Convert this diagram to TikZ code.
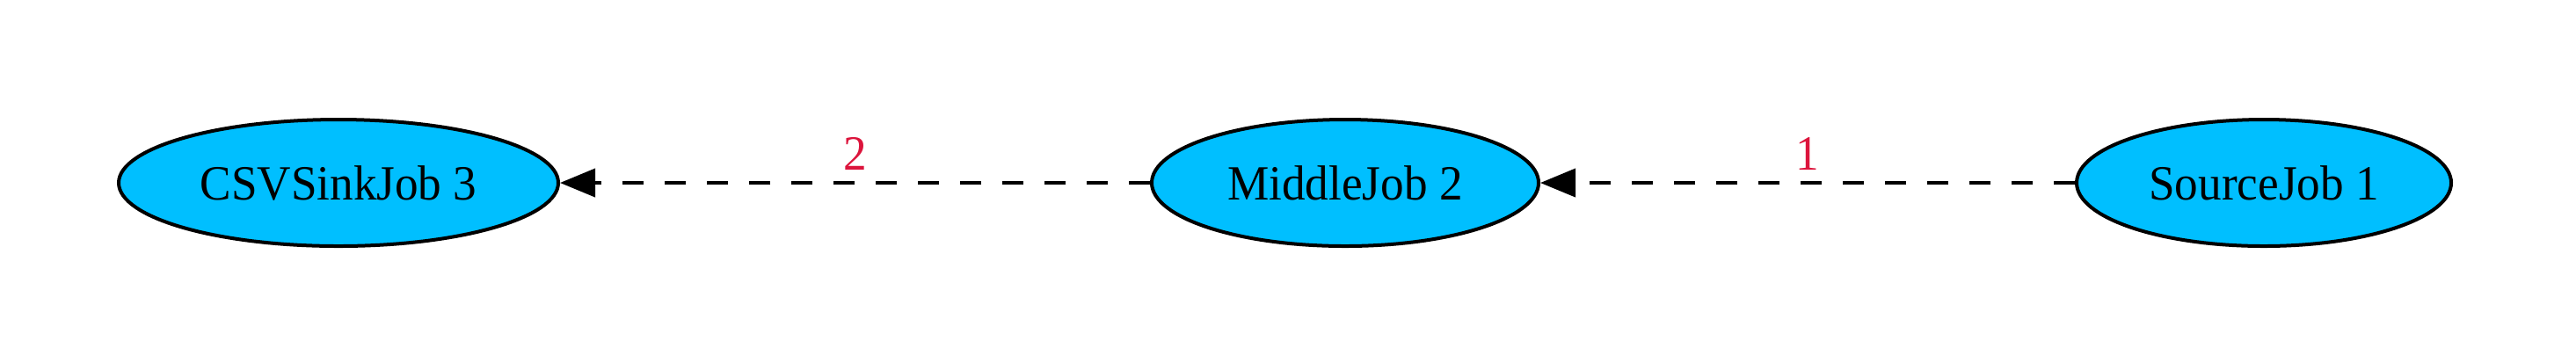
\documentclass[tikz,border=0pt]{standalone}
\usepackage{fontspec}
\setmainfont{Liberation Serif}[FakeStretch=0.95]
\usetikzlibrary{shapes,arrows.meta}
\definecolor{jobblue}{HTML}{00BFFF}
\definecolor{lblred}{HTML}{DC143C}
\tikzstyle{job}=[ellipse,draw=black,line width=1pt,fill=jobblue,minimum height=36pt,inner sep=0pt,font=\fontsize{14}{16}\selectfont]
\tikzstyle{dep}=[draw=black,line width=1pt,dash pattern=on 6pt off 6pt,-{Triangle[length=10pt,width=8pt]}]
\tikzstyle{lbl}=[text=lblred,inner sep=0pt,anchor=base,yshift=3.75pt,font=\fontsize{14}{16}\selectfont]

\begin{document}
\begin{tikzpicture}[x=1pt,y=1pt]
\useasboundingbox (0,0) rectangle (732.5,103);
\node[job,minimum width=125pt] (sink) at (96.25,51) {CSVSinkJob 3};
\node[job,minimum width=110pt] (middle) at (382.5,51) {MiddleJob 2};
\node[job,minimum width=106.5pt] (source) at (643.75,51) {SourceJob 1};
\draw[dep] (middle) -- node[lbl,midway] (ltwo) {2} (sink);
\draw[dep] (source) -- node[lbl,midway] (lone) {1} (middle);
\end{tikzpicture}
\end{document}
